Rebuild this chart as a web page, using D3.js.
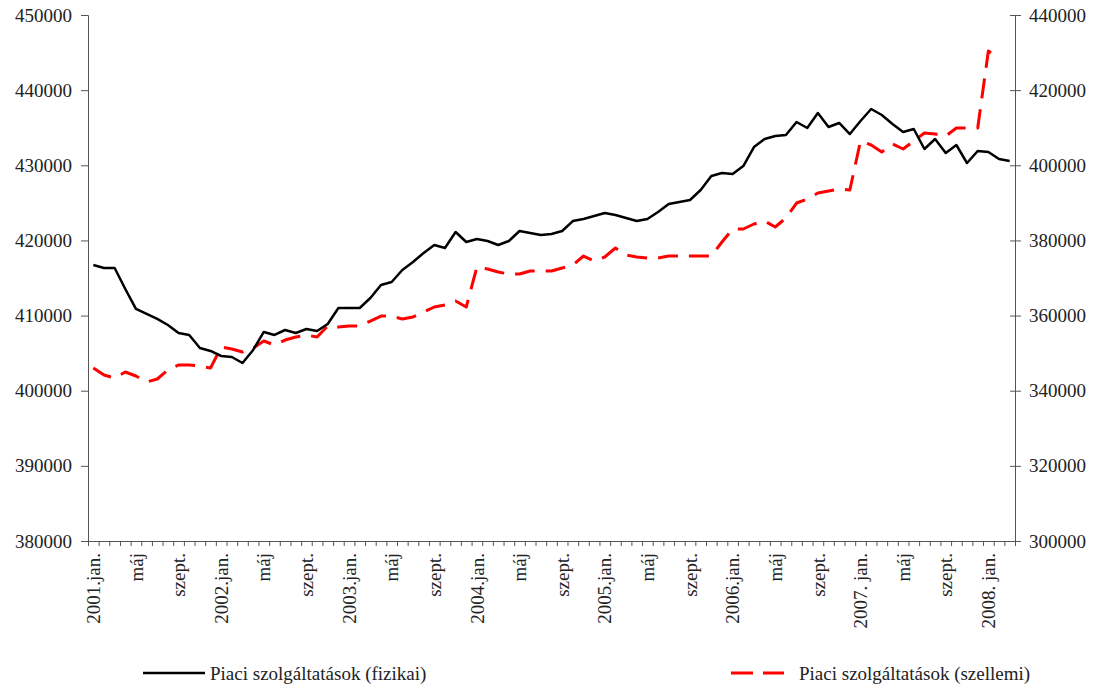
<!DOCTYPE html>
<html>
<head>
<meta charset="utf-8">
<script src="https://cdn.jsdelivr.net/npm/d3@7"></script>
<style>
  body { margin: 0; background: #fff; }
  text { font-family: "Liberation Serif", "DejaVu Serif", serif; fill: #222; }
  .axis path, .axis line { stroke: #555; }
</style>
</head>
<body>
<script>
// ---- data ----
  var startYear = 2001;
  var monthCount = 87; // 2001 jan .. 2008 marc

  var xLabels = ["2001.jan.","máj","szept.","2002.jan.","máj","szept.","2003.jan.","máj","szept.",
                 "2004.jan.","máj","szept.","2005.jan.","máj","szept.","2006.jan.","máj","szept.",
                 "2007. jan.","máj","szept.","2008. jan."];

  // Piaci szolgáltatások (fizikai) - left axis
  var fizikai = [416730,416330,416330,413540,410880,410210,409550,408750,407680,407420,
                 405690,405290,404620,404490,403690,405420,407820,407420,408080,407680,
                 408210,407950,408880,411010,411010,411010,412340,414070,414470,416070,
                 417130,418330,419390,418990,421120,419790,420190,419920,419390,419920,
                 421250,420990,420720,420860,421250,422580,422850,423250,423650,423380,
                 422980,422580,422850,423780,424850,425110,425380,426710,428570,428970,
                 428840,429900,432430,433500,433900,434030,435760,434960,436960,435100,
                 435630,434160,435890,437490,436690,435490,434430,434830,432170,433500,
                 431630,432700,430300,431900,431770,430840,430570];

  // Piaci szolgáltatások (szellemi) - right axis
  var szellemi = [346040,344180,343380,344980,343910,342320,343120,345510,346840,346840,
                  346570,346040,351630,351100,350300,351360,353230,352160,353490,354290,
                  354830,354290,357220,356950,357220,357220,358550,359880,359880,359080,
                  359620,360950,362280,362810,363880,362280,372930,372390,371590,371060,
                  371060,371860,371860,371860,372660,373460,375850,374520,375590,377980,
                  376120,375590,375320,375320,375850,375850,375850,375850,375850,379580,
                  383040,383040,384370,385170,383570,385970,389960,391030,392620,393150,
                  393690,393420,406460,405400,403540,405670,404330,406460,408590,408330,
                  407790,409920,409920,409920,430420,428560];

  var leftTicks = [380000,390000,400000,410000,420000,430000,440000,450000];
  var rightTicks = [300000,320000,340000,360000,380000,400000,420000,440000];
  var seriesNames = ["Piaci szolgáltatások (fizikai)","Piaci szolgáltatások (szellemi)"];
// --------------

  var width_outer = 1096;
  var height_outer = 687;
  var plotLeft = 88, plotRight = 1015, plotTop = 15, plotBottom = 541;

  var months = d3.range(monthCount);

  var svg = d3.select("body").append("svg")
    .attr("width", width_outer)
    .attr("height", height_outer);

  var x = d3.scaleBand()
    .domain(months)
    .range([plotLeft, plotRight])
    .padding(0);
  var xEdge = d3.scaleLinear()
    .domain([0, monthCount])
    .range([plotLeft, plotRight]);

  var yL = d3.scaleLinear().domain([380000, 450000]).range([plotBottom, plotTop]);
  var yR = d3.scaleLinear().domain([300000, 440000]).range([plotBottom, plotTop]);

  function cx(i) { return x(i) + x.bandwidth()/2; }

  // axes
  svg.append("g")
    .attr("class", "axis")
    .attr("transform", "translate(" + plotLeft + ",0)")
    .call(d3.axisLeft(yL).tickValues(leftTicks).tickSize(7).tickPadding(9).tickFormat(d3.format("d")))
    .call(g => g.selectAll("text").style("font-size", "19px"));

  svg.append("g")
    .attr("class", "axis")
    .attr("transform", "translate(" + plotRight + ",0)")
    .call(d3.axisRight(yR).tickValues(rightTicks).tickSize(6).tickPadding(8).tickFormat(d3.format("d")))
    .call(g => g.selectAll("text").style("font-size", "19px"));
  // inner half of right ticks
  svg.append("g")
    .attr("class", "axis")
    .attr("transform", "translate(" + plotRight + ",0)")
    .call(d3.axisLeft(yR).tickValues(rightTicks).tickSize(5).tickFormat(""))
    .call(g => g.select(".domain").remove());

  svg.append("g")
    .attr("class", "axis")
    .attr("transform", "translate(0," + plotBottom + ")")
    .call(d3.axisBottom(xEdge).tickValues(d3.range(monthCount + 1)).tickSize(5).tickSizeOuter(0).tickFormat(""));

  // x labels, every 4th month, rotated
  svg.append("g").selectAll("text")
    .data(xLabels)
    .enter().append("text")
      .attr("transform", (d, i) => "translate(" + cx(i*4) + "," + (plotBottom + 12) + ") rotate(-90)")
      .attr("text-anchor", "end")
      .attr("dy", "0.35em")
      .style("font-size", "19px")
      .text(d => d);

  // lines
  var lineL = d3.line().x((d, i) => cx(i)).y(d => yL(d));
  var lineR = d3.line().x((d, i) => cx(i)).y(d => yR(d));

  svg.append("path")
    .datum(szellemi)
    .attr("d", lineR)
    .attr("fill", "none")
    .attr("stroke", "#ff0000")
    .attr("stroke-width", 3)
    .attr("stroke-dasharray", "20,11")
    .attr("stroke-linejoin", "round");

  svg.append("path")
    .datum(fizikai)
    .attr("d", lineL)
    .attr("fill", "none")
    .attr("stroke", "#000")
    .attr("stroke-width", 2.5)
    .attr("stroke-linejoin", "round");

  // legend
  var legY = 673;
  svg.append("line")
    .attr("x1", 143).attr("x2", 205).attr("y1", legY).attr("y2", legY)
    .attr("stroke", "#000").attr("stroke-width", 2.5);
  svg.append("text")
    .attr("x", 210).attr("y", legY).attr("dy", "0.35em")
    .style("font-size", "19px")
    .text(seriesNames[0]);

  svg.append("line")
    .attr("x1", 731).attr("x2", 784).attr("y1", legY).attr("y2", legY)
    .attr("stroke", "#ff0000").attr("stroke-width", 3)
    .attr("stroke-dasharray", "22,10");
  svg.append("text")
    .attr("x", 799).attr("y", legY).attr("dy", "0.35em")
    .style("font-size", "19px")
    .text(seriesNames[1]);
</script>
</body>
</html>
